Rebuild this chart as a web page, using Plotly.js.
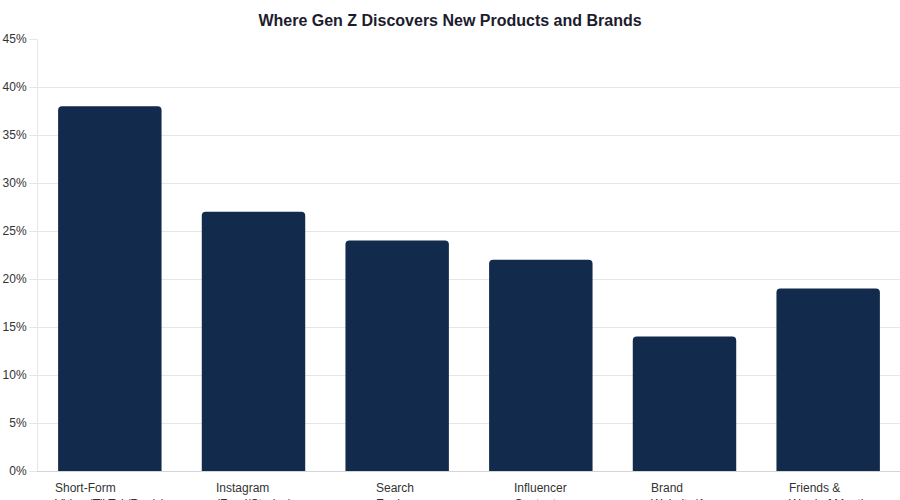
<!DOCTYPE html>
<html>
<head>
<meta charset="utf-8">
<script src="https://cdn.plot.ly/plotly-3.0.1.min.js"></script>
<style>
  html, body { margin: 0; padding: 0; background: #fff; }
  #chart { width: 900px; height: 500px; }
</style>
</head>
<body>
<div id="chart"></div>
<script>
var categories = [
  'Short-Form<br>Video (TikTok/Reels)',
  'Instagram<br>(Feed/Stories)',
  'Search<br>Engines',
  'Influencer<br>Content',
  'Brand<br>Website/App',
  'Friends &<br>Word of Mouth'
];
var shares = [38, 27, 24, 22, 14, 19];

var barColor = '#122a4b';
var gridColor = '#e6e6e6';
var textColor = '#333333';

// category labels as annotations so the two lines sit left-aligned
var labels = [];
categories.forEach(function(name, i) {
  labels.push({
    x: i,
    xref: 'x',
    y: 0,
    yref: 'paper',
    yanchor: 'top',
    xanchor: 'center',
    yshift: -8,
    align: 'left',
    showarrow: false,
    text: name,
    font: {family: 'Liberation Sans, Arial, sans-serif', size: 12, color: textColor}
  });
});

var trace = {
  x: categories.map(function(c, i) { return i; }),
  y: shares,
  type: 'bar',
  marker: {color: barColor},
  hoverinfo: 'y'
};

var layout = {
  width: 900,
  height: 500,
  margin: {l: 38, r: 0, t: 39, b: 29},
  paper_bgcolor: '#ffffff',
  plot_bgcolor: '#ffffff',
  font: {family: 'Liberation Sans, Arial, sans-serif', size: 12, color: textColor},
  title: {
    text: '<b>Where Gen Z Discovers New Products and Brands</b>',
    x: 0.5,
    xanchor: 'center',
    y: 0.96,
    yanchor: 'middle',
    font: {family: 'Liberation Sans, Arial, sans-serif', size: 16, color: '#1c1c2e'}
  },
  bargap: 0.28,
  barcornerradius: 4,
  showlegend: false,
  xaxis: {
    range: [-0.5, 5.5],
    showticklabels: false,
    showgrid: false,
    zeroline: false,
    showline: true,
    linecolor: '#d4d4d4',
    linewidth: 1,
    ticks: ''
  },
  yaxis: {
    range: [0, 45],
    dtick: 5,
    ticksuffix: '%',
    showgrid: true,
    gridcolor: gridColor,
    zeroline: false,
    showline: true,
    linecolor: gridColor,
    ticks: 'outside',
    ticklen: 8,
    tickcolor: gridColor,
    tickfont: {size: 12, color: textColor}
  },
  annotations: labels
};

Plotly.newPlot('chart', [trace], layout, {displayModeBar: false, staticPlot: true});
</script>
</body>
</html>
